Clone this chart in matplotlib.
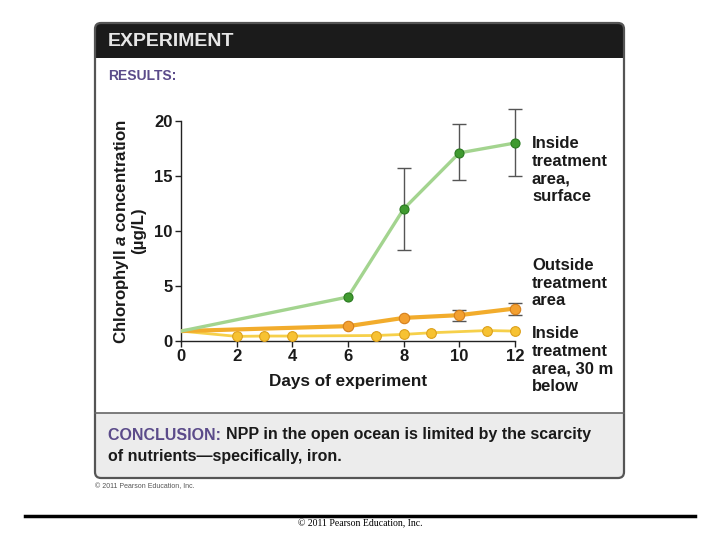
import matplotlib.pyplot as plt
from matplotlib.patches import FancyBboxPatch, Rectangle

plt.rcParams['font.family'] = ['Liberation Sans', 'DejaVu Sans']
plt.rcParams['mathtext.fontset'] = 'custom'
plt.rcParams['mathtext.rm'] = 'Liberation Sans:bold'
plt.rcParams['mathtext.it'] = 'Liberation Sans:italic:bold'
plt.rcParams['mathtext.bf'] = 'Liberation Sans:bold'

# data
surf_days = [0, 6, 8, 10, 12]
surf_chl = [0.9, 4.0, 12.0, 17.1, 18.0]
surf_err_days = [8, 10, 12]
surf_err_lo = [8.3, 14.6, 15.0]
surf_err_hi = [15.7, 19.7, 21.1]

out_days = [0, 6, 8, 10, 12]
out_chl = [0.9, 1.35, 2.1, 2.35, 2.95]
out_err_days = [10, 12]
out_err_lo = [1.8, 2.4]
out_err_hi = [2.85, 3.5]

deep_days = [0, 2, 3, 4, 7, 8, 9, 11, 12]
deep_chl = [0.9, 0.42, 0.45, 0.45, 0.5, 0.6, 0.75, 0.95, 0.9]

x_ticks = [0, 2, 4, 6, 8, 10, 12]
y_ticks = [0, 5, 10, 15, 20]

fig = plt.figure(figsize=(7.2, 5.4), dpi=100)

# background layer in pixel coordinates
bg = fig.add_axes([0, 0, 1, 1])
bg.set_xlim(0, 720)
bg.set_ylim(540, 0)
bg.axis('off')

bg.add_patch(FancyBboxPatch((95, 23), 529, 455, boxstyle="round,pad=0,rounding_size=6",
                            fc='white', ec='none'))
# header bar
bg.add_patch(FancyBboxPatch((95, 23), 529, 35, boxstyle="round,pad=0,rounding_size=6",
                            fc='#1b1b1b', ec='none'))
bg.add_patch(Rectangle((95, 45), 529, 13, fc='#1b1b1b', ec='none'))
# conclusion box
bg.add_patch(FancyBboxPatch((95, 413), 529, 65, boxstyle="round,pad=0,rounding_size=6",
                            fc='#ececec', ec='none'))
bg.add_patch(Rectangle((95, 413), 529, 12, fc='#ececec', ec='none'))
bg.plot([95, 624], [413, 413], color='#666666', lw=1.2)
# outer border
bg.add_patch(FancyBboxPatch((95, 23), 529, 455, boxstyle="round,pad=0,rounding_size=6",
                            fc='none', ec='#555555', lw=1.6))

bg.text(108, 41, "EXPERIMENT", color='#e6e6e6', fontsize=14, fontweight='bold', va='center')
bg.text(108, 76, "RESULTS:", color='#5b4b8a', fontsize=10, fontweight='bold', va='center')

t = bg.text(108, 435, "CONCLUSION: ", color='#5b4b8a', fontsize=11.5, fontweight='bold', va='center')
fig.canvas.draw()
x_end = t.get_window_extent().x1 * 720 / fig.bbox.width
bg.text(x_end, 435, "NPP in the open ocean is limited by the scarcity", color='#1a1a1a',
        fontsize=11.5, fontweight='bold', va='center')
bg.text(108, 456, "of nutrients\u2014specifically, iron.", color='#1a1a1a', fontsize=11.5,
        fontweight='bold', va='center')

bg.text(95, 487, "\u00a9 2011 Pearson Education, Inc.", color='#555555', fontsize=5, va='center')

bg.plot([25, 695], [516, 516], color='black', lw=2.5)
bg.text(360, 524, "\u00a9 2011 Pearson Education, Inc.", fontsize=7, ha='center', va='center',
        family='Liberation Serif')

# right-side labels
lab_kw = dict(fontsize=12, fontweight='bold', va='top', color='#1a1a1a', linespacing=1.22)
bg.text(532, 136, "Inside\ntreatment\narea,\nsurface", **lab_kw)
bg.text(532, 258, "Outside\ntreatment\narea", **lab_kw)
bg.text(532, 326, "Inside\ntreatment\narea, 30 m\nbelow", **lab_kw)

# chart axes
px_x = 27.83
px_y = 11.0
xmax = 12.5
ymax = 21.6
ax = fig.add_axes([181 / 720, (540 - 341) / 540, xmax * px_x / 720, ymax * px_y / 540])
ax.patch.set_alpha(0)
ax.set_xlim(0, xmax)
ax.set_ylim(0, ymax)

ax.plot(deep_days, deep_chl, color='#f6d04a', lw=2, marker='o', markersize=7,
        markerfacecolor='#f7c232', markeredgecolor='#dca01c', markeredgewidth=0.8,
        markevery=list(range(1, len(deep_days))), zorder=3)
ax.errorbar(out_err_days, [out_chl[out_days.index(d)] for d in out_err_days],
            yerr=[[out_chl[out_days.index(d)] - lo for d, lo in zip(out_err_days, out_err_lo)],
                  [hi - out_chl[out_days.index(d)] for d, hi in zip(out_err_days, out_err_hi)]],
            fmt='none', ecolor='#555555', elinewidth=1, capsize=5, zorder=2)
ax.plot(out_days, out_chl, color='#f2ac2c', lw=3, marker='o', markersize=7.5,
        markerfacecolor='#f3a030', markeredgecolor='#d47f1c', markeredgewidth=0.8,
        markevery=list(range(1, len(out_days))), zorder=4)
ax.errorbar(surf_err_days, [surf_chl[surf_days.index(d)] for d in surf_err_days],
            yerr=[[surf_chl[surf_days.index(d)] - lo for d, lo in zip(surf_err_days, surf_err_lo)],
                  [hi - surf_chl[surf_days.index(d)] for d, hi in zip(surf_err_days, surf_err_hi)]],
            fmt='none', ecolor='#555555', elinewidth=1, capsize=5, zorder=2)
ax.plot(surf_days, surf_chl, color='#a3d48f', lw=2.4, marker='o', markersize=6.5,
        markerfacecolor='#3f9a2f', markeredgecolor='#2a7a20', markeredgewidth=0.8,
        markevery=list(range(1, len(surf_days))), zorder=5)

ax.spines['top'].set_visible(False)
ax.spines['right'].set_visible(False)
ax.spines['left'].set_bounds(0, 20)
ax.spines['bottom'].set_bounds(0, 12)
for s in ('left', 'bottom'):
    ax.spines[s].set_color('#222222')
    ax.spines[s].set_linewidth(1)
ax.set_xticks(x_ticks)
ax.set_yticks(y_ticks)
ax.tick_params(direction='out', length=4, width=1, color='#222222', labelsize=12,
               pad=2)
for lbl in ax.get_xticklabels() + ax.get_yticklabels():
    lbl.set_fontweight('bold')
    lbl.set_color('#1a1a1a')

ax.set_xlabel("Days of experiment", fontsize=12.3, fontweight='bold', color='#1a1a1a')
ax.xaxis.set_label_coords(0.5 * 12 / xmax, -0.137)
ax.set_ylabel("Chlorophyll $\\mathit{a}$ concentration\n(\u00b5g/L)", fontsize=12.2,
              fontweight='bold', color='#1a1a1a', linespacing=1.0)
ax.yaxis.set_label_coords(-0.10, 20 / ymax / 2)

fig.savefig('out.png', dpi=100)
